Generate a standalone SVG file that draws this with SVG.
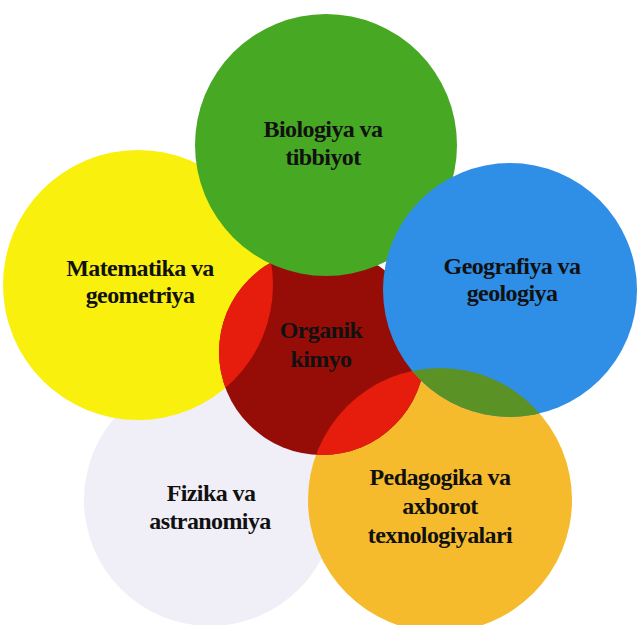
<svg xmlns="http://www.w3.org/2000/svg" width="640" height="625" viewBox="0 0 640 625">
<style>
.lbl{font-family:"Liberation Serif","Times New Roman",serif;font-weight:bold;font-size:24px;fill:#111;text-anchor:middle;letter-spacing:-0.6px}
</style>
<defs>
<clipPath id="cpYellow"><circle cx="138" cy="285" r="135"/></clipPath>
<clipPath id="cpOrange"><circle cx="440" cy="500" r="132"/></clipPath>
</defs>
<rect width="640" height="625" fill="#ffffff"/>
<g id="fizika">
<circle cx="210" cy="500" r="126" fill="#f0eef6"/>
<text class="lbl" x="211" y="501">Fizika va</text>
<text class="lbl" x="210" y="529">astranomiya</text>
</g>
<g id="matematika">
<circle cx="138" cy="285" r="135" fill="#f9f00e"/>
<text class="lbl" x="140" y="276">Matematika va</text>
<text class="lbl" x="140" y="303">geometriya</text>
</g>
<g id="pedagogika">
<circle cx="440" cy="500" r="132" fill="#f5bb2c"/>
<text class="lbl" x="440" y="485">Pedagogika va</text>
<text class="lbl" x="440" y="514">axborot</text>
<text class="lbl" x="440" y="543">texnologiyalari</text>
</g>
<g id="organik">
<circle cx="322" cy="352" r="103" fill="#960d07"/>
<circle cx="322" cy="352" r="103" fill="#e61c0c" clip-path="url(#cpYellow)"/>
<circle cx="322" cy="352" r="103" fill="#e61c0c" clip-path="url(#cpOrange)"/>
</g>
<g id="biologiya">
<circle cx="326" cy="145" r="131" fill="#46a823"/>
<text class="lbl" x="323" y="137">Biologiya va</text>
<text class="lbl" x="323" y="165">tibbiyot</text>
</g>
<g id="geografiya">
<circle cx="510" cy="290" r="127" fill="#2f8ee6"/>
<circle cx="510" cy="290" r="127" fill="#5a9226" clip-path="url(#cpOrange)"/>
<text class="lbl" x="512" y="274">Geografiya va</text>
<text class="lbl" x="512" y="301">geologiya</text>
</g>
<g id="organik-label">
<text class="lbl" x="321" y="338">Organik</text>
<text class="lbl" x="321" y="367">kimyo</text>
</g>
<g id="connectors"></g>
</svg>
